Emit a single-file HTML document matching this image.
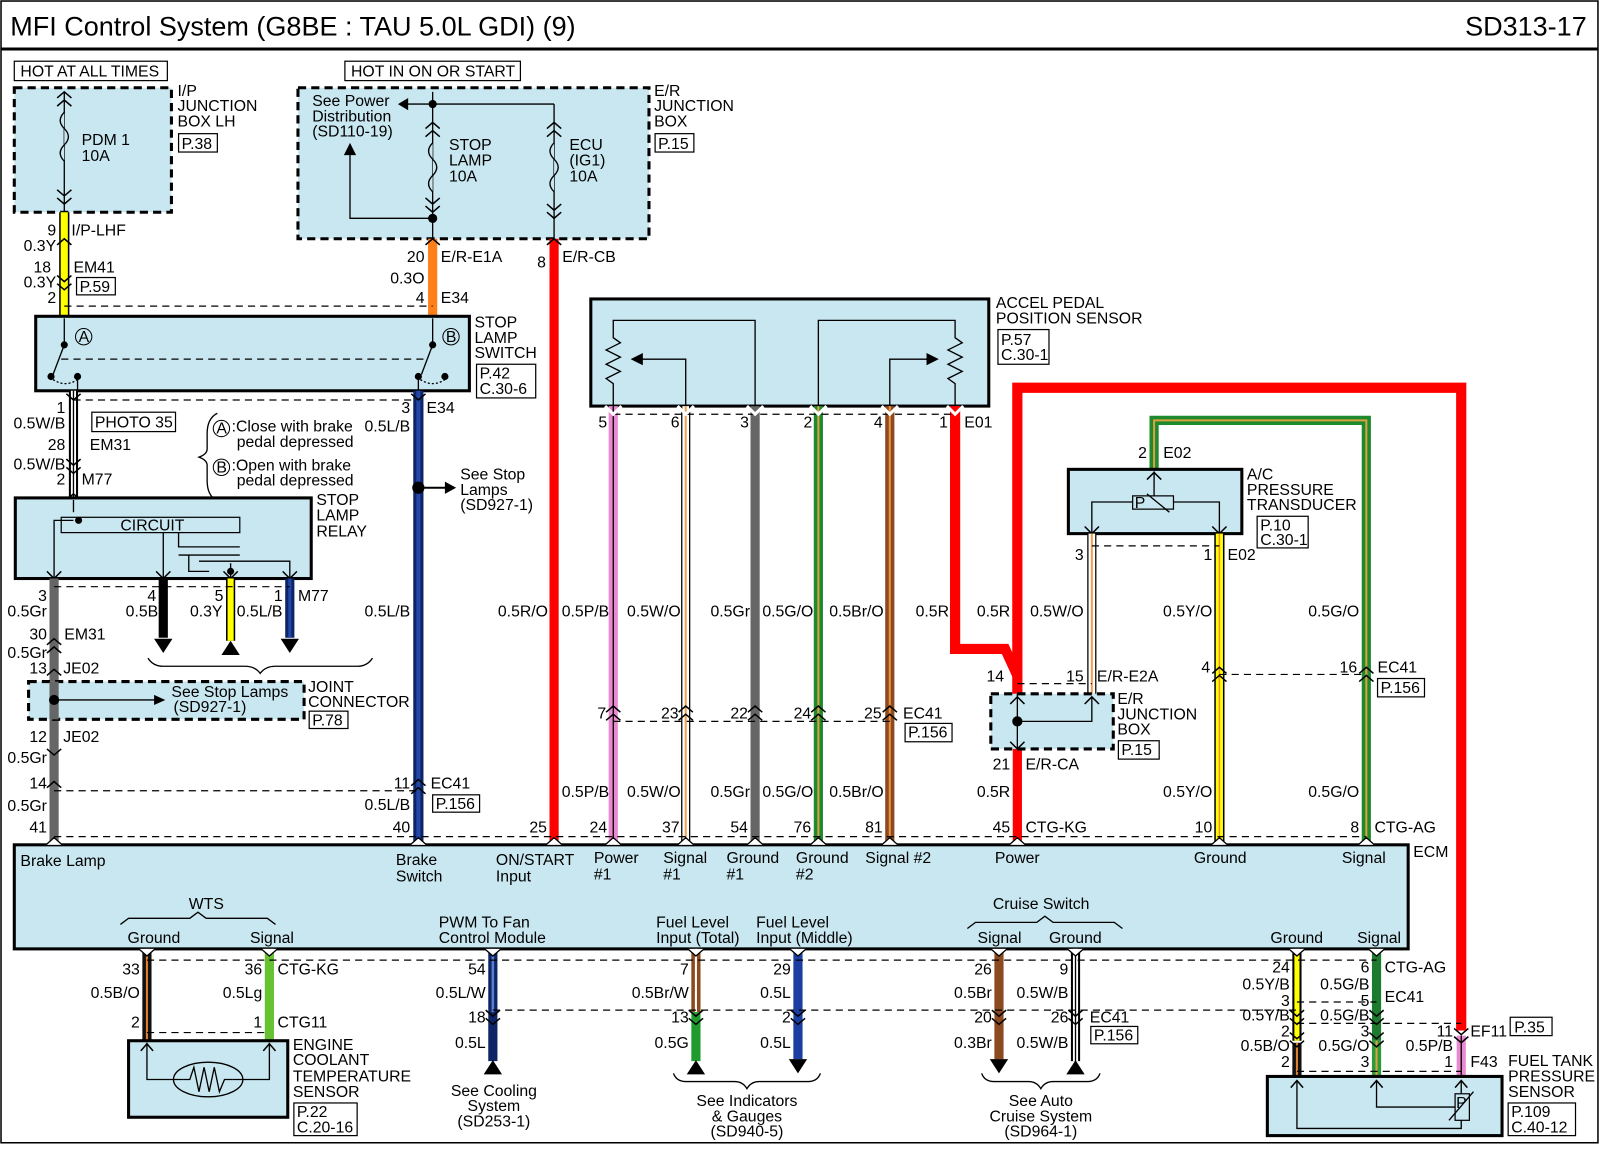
<!DOCTYPE html>
<html><head><meta charset="utf-8"><style>
html,body{margin:0;padding:0;background:#fff}
svg{display:block}
text{font-family:"Liberation Sans",Arial,sans-serif;font-size:15.5px;fill:#000}
.t{font-size:15.5px}
.e{text-anchor:end}
.m{text-anchor:middle}
.bx{fill:#c9e7f0;stroke:#000;stroke-width:3}
.dbx{fill:#c9e7f0;stroke:#000;stroke-width:3;stroke-dasharray:8 5}
.lb{fill:#fff;stroke:#000;stroke-width:1.2}
.d{stroke:#000;stroke-width:1.2;stroke-dasharray:7 5;fill:none}
.ln{stroke:#000;stroke-width:1.3;fill:none}
.ch{stroke:#000;stroke-width:1.5;fill:none}
</style></head><body>
<svg width="1600" height="1155" viewBox="0 0 1568 1132" preserveAspectRatio="none" xmlns="http://www.w3.org/2000/svg">
<rect x="1" y="1" width="1565" height="1119" fill="#fff" stroke="#000" stroke-width="1.5"/>
<text x="10" y="35" style="font-size:26.5px">MFI Control System (G8BE : TAU 5.0L GDI) (9)</text>
<text x="1555" y="35" class="e" style="font-size:26.5px">SD313-17</text>
<line x1="1" y1="48" x2="1566" y2="48" stroke="#000" stroke-width="3"/>

<rect x="14" y="60" width="150" height="19" class="lb"/><text x="20" y="75" class="t">HOT AT ALL TIMES</text>
<rect x="338" y="60" width="172" height="19" class="lb"/><text x="344" y="75" class="t">HOT IN ON OR START</text>

<rect x="14" y="86" width="154" height="122" class="dbx"/>
<line x1="63" y1="90" x2="63" y2="208" class="ln"/>
<path d="M63,110 q-8,8 0,16 q8,8 0,16 q-8,8 0,16" fill="#c9e7f0" stroke="#000" stroke-width="1.3"/>
<path d="M56,96 l7,-6 l7,6 M56,104 l7,-6 l7,6 M56,186 l7,6 l7,-6 M56,194 l7,6 l7,-6" class="ch"/>
<text x="80" y="142" class="t">PDM 1</text><text x="80" y="158" class="t">10A</text>
<text x="174" y="94" class="t">I/P</text><text x="174" y="109" class="t">JUNCTION</text><text x="174" y="124" class="t">BOX LH</text>
<rect x="175" y="131" width="38" height="18" class="lb"/><text x="178" y="146" class="t">P.38</text>

<rect x="292" y="86" width="344" height="148" class="dbx"/>
<text x="306" y="104" class="t">See Power</text><text x="306" y="119" class="t">Distribution</text><text x="306" y="134" class="t">(SD110-19)</text>
<line x1="424" y1="90" x2="424" y2="234" class="ln"/>
<line x1="424" y1="102" x2="398" y2="102" class="ln"/><polygon points="390,102 400,96 400,108"/>
<circle cx="424" cy="102" r="4"/>
<path d="M424,214 L343,214 L343,148" class="ln"/><polygon points="343,140 337,152 349,152"/>
<circle cx="424" cy="214" r="4.5"/>
<path d="M424,140 q-8,8 0,16 q8,8 0,16 q-8,8 0,16" fill="#c9e7f0" stroke="#000" stroke-width="1.3"/>
<path d="M417,126 l7,-6 l7,6 M417,134 l7,-6 l7,6 M417,194 l7,6 l7,-6 M417,202 l7,6 l7,-6" class="ch"/>
<text x="440" y="147" class="t">STOP</text><text x="440" y="162" class="t">LAMP</text><text x="440" y="178" class="t">10A</text>
<line x1="543" y1="102" x2="543" y2="234" class="ln"/>
<path d="M424,102 L543,102" class="ln"/>
<path d="M543,140 q-8,8 0,16 q8,8 0,16 q-8,8 0,16" fill="#c9e7f0" stroke="#000" stroke-width="1.3"/>
<path d="M536,126 l7,-6 l7,6 M536,134 l7,-6 l7,6 M536,200 l7,6 l7,-6 M536,208 l7,6 l7,-6" class="ch"/>
<text x="558" y="147" class="t">ECU</text><text x="558" y="162" class="t">(IG1)</text><text x="558" y="178" class="t">10A</text>
<text x="641" y="94" class="t">E/R</text><text x="641" y="109" class="t">JUNCTION</text><text x="641" y="124" class="t">BOX</text>
<rect x="642" y="131" width="38" height="18" class="lb"/><text x="645" y="146" class="t">P.15</text>

<line x1="63" y1="208" x2="63" y2="310" stroke="#000" stroke-width="10"/><line x1="63" y1="208" x2="63" y2="310" stroke="#ffff00" stroke-width="7"/>
<line x1="424" y1="234" x2="424" y2="310" stroke="#ff7f1a" stroke-width="9"/>
<line x1="543" y1="234" x2="543" y2="828" stroke="#ff0000" stroke-width="9"/>
<path d="M56,240 l7,-6 l7,6 M56,270 l7,6 l7,-6 M56,278 l7,6 l7,-6 M417,240 l7,-6 l7,6 M536,240 l7,-6 l7,6" class="ch"/>
<text x="55" y="231" class="t e">9</text><text x="70" y="231" class="t">I/P-LHF</text>
<text x="55" y="246" class="t e">0.3Y</text>
<text x="50" y="267" class="t e">18</text><text x="72" y="267" class="t">EM41</text>
<text x="55" y="282" class="t e">0.3Y</text>
<rect x="75" y="272" width="38" height="17" class="lb"/><text x="78" y="286" class="t">P.59</text>
<text x="55" y="297" class="t e">2</text>
<text x="416" y="257" class="t e">20</text><text x="432" y="257" class="t">E/R-E1A</text>
<text x="416" y="278" class="t e">0.3O</text>
<text x="416" y="297" class="t e">4</text><text x="432" y="297" class="t">E34</text>
<text x="535" y="262" class="t e">8</text><text x="551" y="257" class="t">E/R-CB</text>
<line x1="63" y1="300" x2="424" y2="300" class="d"/>

<rect x="35" y="310" width="425" height="73" class="bx"/>
<line x1="63" y1="312" x2="63" y2="338" class="ln"/><circle cx="63" cy="338" r="3.5"/>
<line x1="63" y1="338" x2="52" y2="367" class="ln"/><circle cx="50" cy="369" r="3.5"/><circle cx="76" cy="369" r="3.5"/>
<path d="M52,372 q12,8 24,0" class="ln" stroke-dasharray="2 2"/>
<line x1="76" y1="369" x2="76" y2="383" class="ln"/>
<circle cx="82" cy="330" r="8" fill="none" stroke="#000"/><text x="77" y="335" class="t">A</text>
<line x1="424" y1="312" x2="424" y2="338" class="ln"/><circle cx="424" cy="338" r="3.5"/>
<line x1="424" y1="338" x2="413" y2="367" class="ln"/><circle cx="410" cy="369" r="3.5"/><circle cx="436" cy="369" r="3.5"/>
<path d="M412,372 q12,8 24,0" class="ln" stroke-dasharray="2 2"/>
<line x1="410" y1="369" x2="410" y2="383" class="ln"/>
<circle cx="442" cy="330" r="8" fill="none" stroke="#000"/><text x="437" y="335" class="t">B</text>
<line x1="60" y1="352" x2="420" y2="352" class="d"/>
<text x="465" y="321" class="t">STOP</text><text x="465" y="336" class="t">LAMP</text><text x="465" y="351" class="t">SWITCH</text>
<rect x="467" y="357" width="58" height="33" class="lb"/><text x="470" y="371" class="t">P.42</text><text x="470" y="386" class="t">C.30-6</text>

<line x1="72" y1="383" x2="72" y2="488" stroke="#000" stroke-width="9"/><line x1="72" y1="383" x2="72" y2="488" stroke="#fff" stroke-width="5"/><line x1="72" y1="383" x2="72" y2="488" stroke="#000" stroke-width="1.3"/>
<path d="M65,386 l7,6 l7,-6 M65,450 l7,6 l7,-6 M65,458 l7,6 l7,-6 M65,490 l7,-6 l7,6" class="ch"/>
<line x1="72" y1="392" x2="410" y2="392" class="d"/>
<text x="64" y="405" class="t e">1</text><text x="64" y="420" class="t e">0.5W/B</text>
<rect x="90" y="404" width="82" height="19" class="lb"/><text x="93" y="419" class="t">PHOTO 35</text>
<text x="64" y="441" class="t e">28</text><text x="88" y="441" class="t">EM31</text>
<text x="64" y="460" class="t e">0.5W/B</text>
<text x="64" y="475" class="t e">2</text><text x="80" y="475" class="t">M77</text>

<path d="M213,405 q-10,5 -10,20 l0,15 q0,5 -8,8 q8,3 8,8 l0,15 q0,15 10,20" class="ln"/>
<circle cx="217" cy="420" r="8" fill="none" stroke="#000"/><text x="212" y="425" class="t">A</text>
<text x="227" y="423" class="t">:Close with brake</text><text x="232" y="438" class="t">pedal depressed</text>
<circle cx="217" cy="458" r="8" fill="none" stroke="#000"/><text x="212" y="463" class="t">B</text>
<text x="227" y="461" class="t">:Open with brake</text><text x="232" y="476" class="t">pedal depressed</text>

<line x1="410" y1="383" x2="410" y2="828" stroke="#0d2466" stroke-width="10"/><line x1="410" y1="383" x2="410" y2="828" stroke="#2447a8" stroke-width="4"/>
<path d="M403,386 l7,6 l7,-6 M403,770 l7,-6 l7,6 M403,778 l7,-6 l7,6" class="ch"/>
<circle cx="410" cy="478" r="6"/><line x1="416" y1="478" x2="438" y2="478" stroke="#000" stroke-width="2"/><polygon points="447,478 436,472 436,484"/>
<text x="451" y="470" class="t">See Stop</text><text x="451" y="485" class="t">Lamps</text><text x="451" y="500" class="t">(SD927-1)</text>
<text x="402" y="405" class="t e">3</text><text x="418" y="405" class="t">E34</text>
<text x="402" y="423" class="t e">0.5L/B</text>
<text x="402" y="604" class="t e">0.5L/B</text>
<text x="402" y="773" class="t e">11</text><text x="422" y="773" class="t">EC41</text>
<rect x="424" y="779" width="46" height="17" class="lb"/><text x="427" y="793" class="t">P.156</text>
<text x="402" y="794" class="t e">0.5L/B</text>

<rect x="15" y="488" width="290" height="79" class="bx"/>
<rect x="60" y="507" width="175" height="15" fill="none" stroke="#000" stroke-width="1.2"/>
<text x="118" y="520" class="t">CIRCUIT</text>
<path d="M72,490 L72,502" class="ln"/><circle cx="77" cy="510" r="3.5"/>
<path d="M72,510 L53,510 L53,567" class="ln"/>
<path d="M160,522 L160,567 M175,522 L175,536 L235,536 M175,544 L235,544 M185,544 L185,560 L205,560 M195,550 L284,550 L284,567 M226,552 L226,567" class="ln"/>
<circle cx="226" cy="560" r="3.5"/>
<path d="M46,560 l7,7 l7,-7 M153,560 l7,7 l7,-7 M219,560 l7,7 l7,-7 M277,560 l7,7 l7,-7" class="ch"/>
<text x="310" y="495" class="t">STOP</text><text x="310" y="510" class="t">LAMP</text><text x="310" y="526" class="t">RELAY</text>

<line x1="53" y1="567" x2="53" y2="828" stroke="#666" stroke-width="9"/>
<line x1="160" y1="567" x2="160" y2="625" stroke="#000" stroke-width="9"/><polygon points="151,626 169,626 160,640"/>
<line x1="226" y1="567" x2="226" y2="628" stroke="#000" stroke-width="9"/><line x1="226" y1="567" x2="226" y2="628" stroke="#ffff00" stroke-width="6"/><polygon points="217,642 235,642 226,628"/>
<line x1="284" y1="567" x2="284" y2="625" stroke="#0d2466" stroke-width="9"/><line x1="284" y1="567" x2="284" y2="625" stroke="#2447a8" stroke-width="3"/><polygon points="275,626 293,626 284,640"/>
<line x1="53" y1="575" x2="284" y2="575" class="d"/>
<text x="46" y="589" class="t e">3</text><text x="153" y="589" class="t e">4</text><text x="219" y="589" class="t e">5</text><text x="277" y="589" class="t e">1</text><text x="292" y="589" class="t">M77</text>
<text x="46" y="604" class="t e">0.5Gr</text><text x="155" y="604" class="t e">0.5B</text><text x="218" y="604" class="t e">0.3Y</text><text x="232" y="604" class="t">0.5L/B</text>
<path d="M145,645 q5,8 15,8 l80,0 q10,0 15,7 q5,-7 15,-7 l80,0 q10,0 15,-8" class="ln"/>
<path d="M46,632 l7,-6 l7,6 M46,640 l7,-6 l7,6 M46,662 l7,-6 l7,6 M46,734 l7,6 l7,-6 M46,772 l7,-6 l7,6" class="ch"/>
<text x="46" y="627" class="t e">30</text><text x="63" y="627" class="t">EM31</text>
<text x="46" y="645" class="t e">0.5Gr</text>
<text x="46" y="660" class="t e">13</text><text x="62" y="660" class="t">JE02</text>

<rect x="28" y="668" width="270" height="37" class="dbx"/>
<line x1="53" y1="668" x2="53" y2="705" stroke="#666" stroke-width="9"/>
<circle cx="53" cy="686" r="5"/><line x1="53" y1="686" x2="152" y2="686" class="ln"/><polygon points="162,686 151,681 151,691"/>
<text x="168" y="683" class="t">See Stop Lamps</text><text x="170" y="698" class="t">(SD927-1)</text>
<text x="302" y="678" class="t">JOINT</text><text x="302" y="693" class="t">CONNECTOR</text>
<rect x="303" y="697" width="38" height="17" class="lb"/><text x="306" y="711" class="t">P.78</text>
<text x="46" y="727" class="t e">12</text><text x="62" y="727" class="t">JE02</text>
<text x="46" y="748" class="t e">0.5Gr</text>
<text x="46" y="773" class="t e">14</text>
<line x1="53" y1="775" x2="410" y2="775" class="d"/>
<text x="46" y="795" class="t e">0.5Gr</text>
<text x="46" y="816" class="t e">41</text>

<rect x="579" y="293" width="390" height="105" class="bx"/>
<path d="M601,398 L601,376 L594,371 L608,364 L594,357 L608,350 L594,343 L608,336 L601,331 L601,314 L740,314 L740,398" class="ln"/>
<path d="M672,398 L672,352 L628,352" class="ln"/><polygon points="618,352 630,346 630,358"/>
<path d="M936,398 L936,376 L929,371 L943,364 L929,357 L943,350 L929,343 L943,336 L936,331 L936,314 L802,314 L802,398" class="ln"/>
<path d="M872,398 L872,352 L910,352" class="ln"/><polygon points="920,352 908,346 908,358"/>
<text x="976" y="302" class="t">ACCEL PEDAL</text><text x="976" y="317" class="t">POSITION SENSOR</text>
<rect x="978" y="323" width="50" height="34" class="lb"/><text x="981" y="338" class="t">P.57</text><text x="981" y="353" class="t">C.30-1</text>

<line x1="601" y1="398" x2="601" y2="828" stroke="#e98ad0" stroke-width="9"/><line x1="601" y1="398" x2="601" y2="828" stroke="#000" stroke-width="1.3"/>
<line x1="672" y1="398" x2="672" y2="828" stroke="#000" stroke-width="9"/><line x1="672" y1="398" x2="672" y2="828" stroke="#fff" stroke-width="6.5"/><line x1="672" y1="398" x2="672" y2="828" stroke="#f0a050" stroke-width="2"/>
<line x1="740" y1="398" x2="740" y2="828" stroke="#666" stroke-width="9"/>
<line x1="802" y1="398" x2="802" y2="828" stroke="#1e8a2e" stroke-width="9"/><line x1="802" y1="398" x2="802" y2="828" stroke="#e0a040" stroke-width="2"/>
<line x1="872" y1="398" x2="872" y2="828" stroke="#8b4a1f" stroke-width="9"/><line x1="872" y1="398" x2="872" y2="828" stroke="#f09040" stroke-width="2"/>
<path d="M936,398 L936,636 L985,636 L997,662" stroke="#ff0000" stroke-width="10" fill="none" stroke-linejoin="miter"/>
<path d="M997,680 L997,380 L1432,380 L1432,1010" stroke="#ff0000" stroke-width="10" fill="none"/>
<line x1="997" y1="734" x2="997" y2="828" stroke="#ff0000" stroke-width="9"/>
<line x1="601" y1="406" x2="936" y2="406" class="d"/>
<line x1="601" y1="707" x2="872" y2="707" class="d"/>
<text x="595" y="419" class="t e">5</text><text x="666" y="419" class="t e">6</text><text x="734" y="419" class="t e">3</text><text x="796" y="419" class="t e">2</text><text x="865" y="419" class="t e">4</text><text x="929" y="419" class="t e">1</text><text x="945" y="419" class="t">E01</text>
<text x="537" y="604" class="t e">0.5R/O</text><text x="597" y="604" class="t e">0.5P/B</text><text x="667" y="604" class="t e">0.5W/O</text><text x="735" y="604" class="t e">0.5Gr</text><text x="797" y="604" class="t e">0.5G/O</text><text x="866" y="604" class="t e">0.5Br/O</text><text x="930" y="604" class="t e">0.5R</text><text x="990" y="604" class="t e">0.5R</text><text x="1062" y="604" class="t e">0.5W/O</text>
<text x="594" y="704" class="t e">7</text><text x="665" y="704" class="t e">23</text><text x="733" y="704" class="t e">22</text><text x="795" y="704" class="t e">24</text><text x="864" y="704" class="t e">25</text><text x="885" y="704" class="t">EC41</text>
<rect x="887" y="709" width="46" height="18" class="lb"/><text x="890" y="723" class="t">P.156</text>
<text x="597" y="781" class="t e">0.5P/B</text><text x="667" y="781" class="t e">0.5W/O</text><text x="735" y="781" class="t e">0.5Gr</text><text x="797" y="781" class="t e">0.5G/O</text><text x="866" y="781" class="t e">0.5Br/O</text><text x="990" y="781" class="t e">0.5R</text>
<path d="M594,698 l7,-6 l7,6 M594,706 l7,-6 l7,6 M665,698 l7,-6 l7,6 M665,706 l7,-6 l7,6 M733,698 l7,-6 l7,6 M733,706 l7,-6 l7,6 M795,698 l7,-6 l7,6 M795,706 l7,-6 l7,6 M865,698 l7,-6 l7,6 M865,706 l7,-6 l7,6" class="ch"/>
<path d="M593,398 l8,8 l8,-8 M664,398 l8,8 l8,-8 M732,398 l8,8 l8,-8 M794,398 l8,8 l8,-8 M864,398 l8,8 l8,-8 M928,398 l8,8 l8,-8" stroke="#fff" stroke-width="3" fill="none"/>

<path d="M1131,460 L1131,412 L1339,412 L1339,828" stroke="#1e8a2e" stroke-width="9" fill="none"/>
<path d="M1131,460 L1131,412 L1339,412 L1339,828" stroke="#e0a040" stroke-width="2" fill="none"/>
<rect x="1047" y="460" width="170" height="63" class="bx"/>
<path d="M1131,462 L1131,486 M1110,492 L1070,492 L1070,523 M1150,492 L1195,492 L1195,523" class="ln"/>
<rect x="1110" y="486" width="40" height="13" fill="none" stroke="#000" stroke-width="1.2"/><text x="1112" y="498" class="t">P</text>
<line x1="1124" y1="484" x2="1146" y2="502" class="ln"/>
<path d="M1124,470 l7,-7 l7,7 M1063,516 l7,7 l7,-7 M1188,516 l7,7 l7,-7" class="ch"/>
<text x="1124" y="449" class="t e">2</text><text x="1140" y="449" class="t">E02</text>
<text x="1222" y="470" class="t">A/C</text><text x="1222" y="485" class="t">PRESSURE</text><text x="1222" y="500" class="t">TRANSDUCER</text>
<rect x="1232" y="506" width="50" height="31" class="lb"/><text x="1235" y="520" class="t">P.10</text><text x="1235" y="534" class="t">C.30-1</text>
<line x1="1070" y1="523" x2="1070" y2="680" stroke="#000" stroke-width="9"/><line x1="1070" y1="523" x2="1070" y2="680" stroke="#fff" stroke-width="6.5"/><line x1="1070" y1="523" x2="1070" y2="680" stroke="#f0a050" stroke-width="2"/>
<line x1="1195" y1="523" x2="1195" y2="828" stroke="#000" stroke-width="10"/><line x1="1195" y1="523" x2="1195" y2="828" stroke="#ffff00" stroke-width="7"/><line x1="1195" y1="523" x2="1195" y2="828" stroke="#f09040" stroke-width="1.5"/>
<line x1="1070" y1="535" x2="1195" y2="535" class="d"/>
<text x="1062" y="549" class="t e">3</text><text x="1188" y="549" class="t e">1</text><text x="1203" y="549" class="t">E02</text>
<text x="1188" y="604" class="t e">0.5Y/O</text><text x="1332" y="604" class="t e">0.5G/O</text>
<path d="M1188,660 l7,-6 l7,6 M1188,668 l7,-6 l7,6 M1332,660 l7,-6 l7,6 M1332,668 l7,-6 l7,6" class="ch"/>
<line x1="1195" y1="661" x2="1339" y2="661" class="d"/>
<text x="1186" y="659" class="t e">4</text><text x="1330" y="659" class="t e">16</text><text x="1350" y="659" class="t">EC41</text>
<rect x="1350" y="665" width="46" height="18" class="lb"/><text x="1353" y="679" class="t">P.156</text>
<text x="1188" y="781" class="t e">0.5Y/O</text><text x="1332" y="781" class="t e">0.5G/O</text>

<rect x="971" y="680" width="120" height="54" class="dbx"/>
<line x1="997" y1="680" x2="997" y2="734" class="ln"/><circle cx="997" cy="707" r="5"/>
<path d="M997,707 L1070,707 L1070,684" class="ln"/>
<path d="M990,690 l7,-7 l7,7 M1063,690 l7,-7 l7,7 M990,727 l7,7 l7,-7" class="ch"/>
<line x1="997" y1="670" x2="1070" y2="670" class="d"/>
<text x="984" y="668" class="t e">14</text><text x="1062" y="668" class="t e">15</text><text x="1075" y="668" class="t">E/R-E2A</text>
<text x="1095" y="690" class="t">E/R</text><text x="1095" y="705" class="t">JUNCTION</text><text x="1095" y="720" class="t">BOX</text>
<rect x="1096" y="726" width="40" height="18" class="lb"/><text x="1099" y="740" class="t">P.15</text>
<text x="990" y="754" class="t e">21</text><text x="1005" y="754" class="t">E/R-CA</text>

<line x1="53" y1="820" x2="1339" y2="820" class="d"/>
<text x="402" y="816" class="t e">40</text><text x="536" y="816" class="t e">25</text><text x="595" y="816" class="t e">24</text><text x="666" y="816" class="t e">37</text><text x="733" y="816" class="t e">54</text><text x="795" y="816" class="t e">76</text><text x="865" y="816" class="t e">81</text><text x="990" y="816" class="t e">45</text><text x="1005" y="816" class="t">CTG-KG</text><text x="1188" y="816" class="t e">10</text><text x="1332" y="816" class="t e">8</text><text x="1347" y="816" class="t">CTG-AG</text>

<rect x="14" y="828" width="1366" height="102" class="bx"/>
<path d="M45,828 l8,-7 l8,7 M402,828 l8,-7 l8,7 M535,828 l8,-7 l8,7 M593,828 l8,-7 l8,7 M664,828 l8,-7 l8,7 M732,828 l8,-7 l8,7 M794,828 l8,-7 l8,7 M864,828 l8,-7 l8,7 M989,828 l8,-7 l8,7 M1187,828 l8,-7 l8,7 M1331,828 l8,-7 l8,7" fill="#fff" stroke="#000" stroke-width="1.3"/>
<text x="1385" y="840" class="t">ECM</text>
<text x="20" y="849" class="t">Brake Lamp</text>
<text x="388" y="848" class="t">Brake</text><text x="388" y="864" class="t">Switch</text>
<text x="486" y="848" class="t">ON/START</text><text x="486" y="864" class="t">Input</text>
<text x="582" y="846" class="t">Power</text><text x="582" y="862" class="t">#1</text>
<text x="650" y="846" class="t">Signal</text><text x="650" y="862" class="t">#1</text>
<text x="712" y="846" class="t">Ground</text><text x="712" y="862" class="t">#1</text>
<text x="780" y="846" class="t">Ground</text><text x="780" y="862" class="t">#2</text>
<text x="848" y="846" class="t">Signal #2</text>
<text x="975" y="846" class="t">Power</text>
<text x="1170" y="846" class="t">Ground</text>
<text x="1315" y="846" class="t">Signal</text>
<text x="185" y="891" class="t">WTS</text>
<path d="M118,906 l8,-6 l60,0 l8,-6 l8,6 l60,0 l8,6" class="ln"/>
<text x="125" y="924" class="t">Ground</text><text x="245" y="924" class="t">Signal</text>
<text x="430" y="909" class="t">PWM To Fan</text><text x="430" y="924" class="t">Control Module</text>
<text x="643" y="909" class="t">Fuel Level</text><text x="643" y="924" class="t">Input (Total)</text>
<text x="741" y="909" class="t">Fuel Level</text><text x="741" y="924" class="t">Input (Middle)</text>
<text x="973" y="891" class="t">Cruise Switch</text>
<path d="M948,910 l8,-6 l60,0 l8,-6 l8,6 l60,0 l8,6" class="ln"/>
<text x="958" y="924" class="t">Signal</text><text x="1028" y="924" class="t">Ground</text>
<text x="1245" y="924" class="t">Ground</text><text x="1330" y="924" class="t">Signal</text>

<line x1="144" y1="930" x2="144" y2="1020" stroke="#111" stroke-width="9"/><line x1="144" y1="930" x2="144" y2="1020" stroke="#e08030" stroke-width="2"/>
<line x1="264" y1="930" x2="264" y2="1020" stroke="#66c233" stroke-width="9"/>
<line x1="483" y1="930" x2="483" y2="1040" stroke="#0d2466" stroke-width="9"/><line x1="483" y1="930" x2="483" y2="992" stroke="#5b7fd0" stroke-width="2.5"/><polygon points="474,1053 492,1053 483,1039"/>
<line x1="682" y1="930" x2="682" y2="992" stroke="#8b4a1f" stroke-width="9"/><line x1="682" y1="930" x2="682" y2="992" stroke="#fff" stroke-width="2"/>
<line x1="682" y1="992" x2="682" y2="1040" stroke="#1e9a2e" stroke-width="9"/><polygon points="673,1053 691,1053 682,1039"/>
<line x1="782" y1="930" x2="782" y2="1038" stroke="#1a3fa0" stroke-width="9"/><polygon points="773,1038 791,1038 782,1052"/>
<line x1="979" y1="930" x2="979" y2="1038" stroke="#8b4a1f" stroke-width="9"/><polygon points="970,1038 988,1038 979,1052"/>
<line x1="1054" y1="930" x2="1054" y2="1040" stroke="#000" stroke-width="9"/><line x1="1054" y1="930" x2="1054" y2="1040" stroke="#fff" stroke-width="5"/><line x1="1054" y1="930" x2="1054" y2="1040" stroke="#000" stroke-width="1.3"/><polygon points="1045,1053 1063,1053 1054,1039"/>
<line x1="1271" y1="930" x2="1271" y2="1020" stroke="#000" stroke-width="9"/><line x1="1271" y1="930" x2="1271" y2="1020" stroke="#ffff00" stroke-width="5"/><line x1="1271" y1="1022" x2="1271" y2="1055" stroke="#111" stroke-width="9"/><line x1="1271" y1="1022" x2="1271" y2="1055" stroke="#e08030" stroke-width="2"/>
<line x1="1349" y1="930" x2="1349" y2="1020" stroke="#1e7a2e" stroke-width="9"/><line x1="1349" y1="1020" x2="1349" y2="1055" stroke="#2a9a3a" stroke-width="9"/><line x1="1349" y1="1020" x2="1349" y2="1055" stroke="#e0a040" stroke-width="2"/>
<line x1="1432" y1="1015" x2="1432" y2="1055" stroke="#e98ad0" stroke-width="9"/><line x1="1432" y1="1015" x2="1432" y2="1055" stroke="#000" stroke-width="1.3"/>
<path d="M136,930 l8,7 l8,-7 M256,930 l8,7 l8,-7 M475,930 l8,7 l8,-7 M674,930 l8,7 l8,-7 M774,930 l8,7 l8,-7 M971,930 l8,7 l8,-7 M1046,930 l8,7 l8,-7 M1263,930 l8,7 l8,-7 M1341,930 l8,7 l8,-7" fill="#fff" stroke="#000" stroke-width="1.3"/>
<path d="M476,990 l7,6 l7,-6 M476,998 l7,6 l7,-6 M675,990 l7,6 l7,-6 M675,998 l7,6 l7,-6 M775,990 l7,6 l7,-6 M775,998 l7,6 l7,-6 M972,990 l7,6 l7,-6 M972,998 l7,6 l7,-6 M1047,990 l7,6 l7,-6 M1047,998 l7,6 l7,-6 M1264,990 l7,6 l7,-6 M1264,998 l7,6 l7,-6 M1342,990 l7,6 l7,-6 M1342,998 l7,6 l7,-6 M1264,1012 l7,6 l7,-6 M1264,1020 l7,6 l7,-6 M1342,1012 l7,6 l7,-6 M1342,1020 l7,6 l7,-6 M1425,1008 l7,6 l7,-6 M1425,1016 l7,6 l7,-6" class="ch"/>
<line x1="144" y1="941" x2="1349" y2="941" class="d"/>
<line x1="144" y1="1012" x2="264" y2="1012" class="d"/>
<line x1="483" y1="990" x2="1271" y2="990" class="d"/>
<line x1="1271" y1="982" x2="1349" y2="982" class="d"/>
<line x1="1271" y1="1003" x2="1432" y2="1003" class="d"/>
<line x1="1271" y1="1050" x2="1432" y2="1050" class="d"/>
<text x="137" y="955" class="t e">33</text><text x="137" y="978" class="t e">0.5B/O</text><text x="137" y="1007" class="t e">2</text>
<text x="257" y="955" class="t e">36</text><text x="272" y="955" class="t">CTG-KG</text><text x="257" y="978" class="t e">0.5Lg</text><text x="257" y="1007" class="t e">1</text><text x="272" y="1007" class="t">CTG11</text>
<text x="476" y="955" class="t e">54</text><text x="476" y="978" class="t e">0.5L/W</text><text x="476" y="1002" class="t e">18</text><text x="476" y="1027" class="t e">0.5L</text>
<text x="675" y="955" class="t e">7</text><text x="675" y="978" class="t e">0.5Br/W</text><text x="675" y="1002" class="t e">13</text><text x="675" y="1027" class="t e">0.5G</text>
<text x="775" y="955" class="t e">29</text><text x="775" y="978" class="t e">0.5L</text><text x="775" y="1002" class="t e">2</text><text x="775" y="1027" class="t e">0.5L</text>
<text x="972" y="955" class="t e">26</text><text x="972" y="978" class="t e">0.5Br</text><text x="972" y="1002" class="t e">20</text><text x="972" y="1027" class="t e">0.3Br</text>
<text x="1047" y="955" class="t e">9</text><text x="1047" y="978" class="t e">0.5W/B</text><text x="1047" y="1002" class="t e">26</text><text x="1068" y="1002" class="t">EC41</text><text x="1047" y="1027" class="t e">0.5W/B</text>
<rect x="1069" y="1006" width="46" height="17" class="lb"/><text x="1072" y="1020" class="t">P.156</text>
<text x="1264" y="953" class="t e">24</text><text x="1264" y="970" class="t e">0.5Y/B</text><text x="1264" y="986" class="t e">3</text><text x="1264" y="1000" class="t e">0.5Y/B</text><text x="1264" y="1016" class="t e">2</text><text x="1264" y="1030" class="t e">0.5B/O</text><text x="1264" y="1046" class="t e">2</text>
<text x="1342" y="953" class="t e">6</text><text x="1357" y="953" class="t">CTG-AG</text><text x="1342" y="970" class="t e">0.5G/B</text><text x="1342" y="986" class="t e">5</text><text x="1357" y="982" class="t">EC41</text><text x="1342" y="1000" class="t e">0.5G/B</text><text x="1342" y="1016" class="t e">3</text><text x="1342" y="1030" class="t e">0.5G/O</text><text x="1342" y="1046" class="t e">3</text>
<text x="1424" y="1016" class="t e">11</text><text x="1441" y="1016" class="t">EF11</text><rect x="1480" y="997" width="41" height="18" class="lb"/><text x="1484" y="1012" class="t">P.35</text>
<text x="1424" y="1030" class="t e">0.5P/B</text><text x="1424" y="1046" class="t e">1</text><text x="1441" y="1046" class="t">F43</text>

<rect x="126" y="1020" width="156" height="75" class="bx"/>
<path d="M144,1022 L144,1058 L180,1058 M228,1058 L264,1058 L264,1022" class="ln"/>
<path d="M138,1030 l6,-7 l6,7 M258,1030 l6,-7 l6,7" class="ch"/>
<ellipse cx="204" cy="1058" rx="34" ry="17" fill="none" stroke="#000" stroke-width="1.3"/>
<path d="M180,1058 L186,1058 L190,1046 L195,1070 L200,1046 L205,1070 L210,1046 L215,1070 L220,1058 L228,1058" class="ln"/>
<text x="287" y="1029" class="t">ENGINE</text><text x="287" y="1044" class="t">COOLANT</text><text x="287" y="1060" class="t">TEMPERATURE</text><text x="287" y="1075" class="t">SENSOR</text>
<rect x="288" y="1081" width="62" height="32" class="lb"/><text x="291" y="1095" class="t">P.22</text><text x="291" y="1110" class="t">C.20-16</text>
<text x="484" y="1074" class="t m">See Cooling</text><text x="484" y="1089" class="t m">System</text><text x="484" y="1104" class="t m">(SD253-1)</text>
<path d="M660,1052 q3,8 12,8 l48,0 q8,0 12,7 q4,-7 12,-7 l48,0 q9,0 12,-8" class="ln"/>
<text x="732" y="1084" class="t m">See Indicators</text><text x="732" y="1099" class="t m">&amp; Gauges</text><text x="732" y="1114" class="t m">(SD940-5)</text>
<path d="M962,1052 q3,8 12,8 l34,0 q8,0 12,7 q4,-7 12,-7 l34,0 q9,0 12,-8" class="ln"/>
<text x="1020" y="1084" class="t m">See Auto</text><text x="1020" y="1099" class="t m">Cruise System</text><text x="1020" y="1114" class="t m">(SD964-1)</text>

<rect x="1242" y="1055" width="230" height="58" class="bx"/>
<path d="M1265,1066 l6,-7 l6,7 M1343,1066 l6,-7 l6,7 M1426,1066 l6,-7 l6,7" class="ch"/>
<path d="M1271,1060 L1271,1106 L1432,1106 L1432,1098 M1349,1060 L1349,1085 L1426,1085 M1432,1060 L1432,1072" class="ln"/>
<rect x="1426" y="1072" width="14" height="26" fill="none" stroke="#000" stroke-width="1.2"/>
<text x="1427" y="1086" class="t">P</text><line x1="1420" y1="1098" x2="1444" y2="1070" class="ln"/>
<text x="1478" y="1045" class="t">FUEL TANK</text><text x="1478" y="1060" class="t">PRESSURE</text><text x="1478" y="1075" class="t">SENSOR</text>
<rect x="1478" y="1081" width="66" height="32" class="lb"/><text x="1481" y="1095" class="t">P.109</text><text x="1481" y="1110" class="t">C.40-12</text>
</svg>
</body></html>
